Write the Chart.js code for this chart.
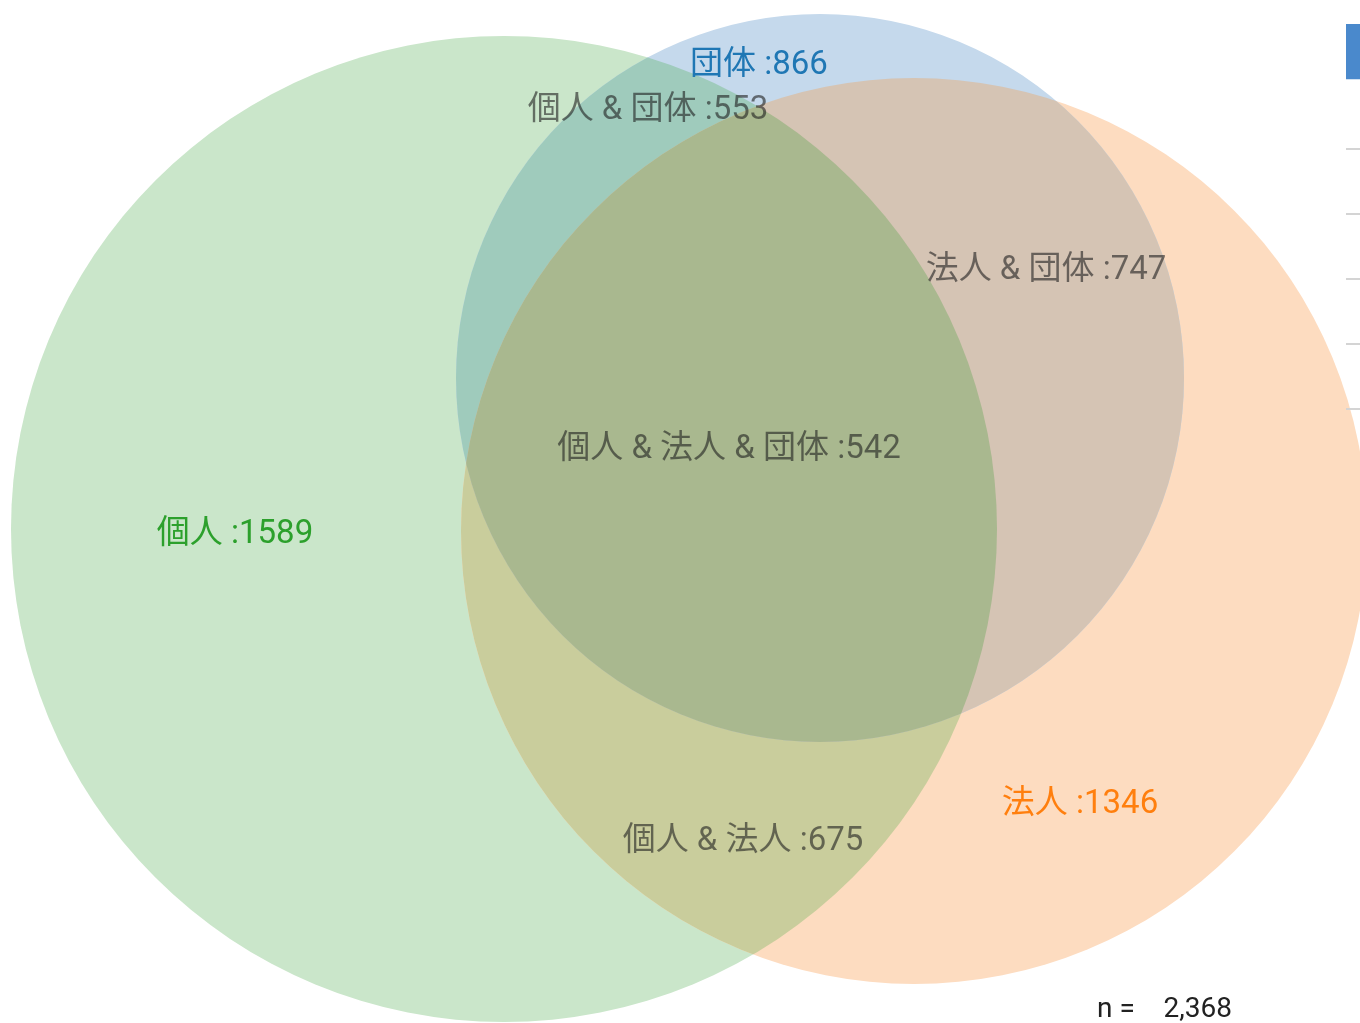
<!DOCTYPE html>
<html lang="ja">
<head>
<meta charset="utf-8">
<title>個人・法人・団体</title>
<script src="https://cdn.jsdelivr.net/npm/chart.js@4/dist/chart.umd.min.js"></script>
<style>
  html, body { margin: 0; padding: 0; background: #fff; overflow: hidden; }
  #wrap { position: relative; width: 1360px; height: 1023px; overflow: hidden; }
  #venn { position: absolute; left: 0; top: 0; }
  #side { position: absolute; left: 1346px; top: 0; }
</style>
</head>
<body>
<div id="wrap">
  <canvas id="venn" width="1360" height="1023"></canvas>
  <canvas id="side" width="200" height="440"></canvas>
</div>
<script>
// --- sets ---
const setNames = ['個人', '法人', '団体'];
const setCounts = [1589, 1346, 866];
const setColors = ['#cae6ca', '#fddcc0', '#c5d9ec'];
const setTextColors = ['#2ca02c', '#ff7f0e', '#1f77b4'];
// circle centres / radii in axis units
const circleX = [504, 914, 820];
const circleY = [529, 531, 378];
const circleR = [493, 453, 364];

// --- overlaps ---
const pairNames = ['個人 & 法人', '個人 & 団体', '法人 & 団体'];
const pairSets = [[0, 1], [0, 2], [1, 2]];
const pairCounts = [675, 553, 747];
const pairColors = ['#c9cd9c', '#9fcbbc', '#d5c4b4'];
const tripleName = '個人 & 法人 & 団体';
const tripleCount = 542;
const tripleColor = '#a9b88f';

// label anchors (axis units)
const setLabelX = [235, 1080, 759];
const setLabelY = [535, 805, 66];
const pairLabelX = [743, 648, 1046];
const pairLabelY = [842, 111, 271];
const tripleLabelX = 729;
const tripleLabelY = 450;

const totalN = 2368;

// partial side panel (cut off at the right edge)
const sideCategories = ['', '', '', '', '', ''];
const sideValues = [1, 0, 0, 0, 0, 0];

const labelFont = '33px Roboto, "Noto Sans CJK JP", sans-serif';
const overlapText = 'rgba(30, 30, 30, 0.6)';

// 円と重なり部分の塗り
const circlePlugin = {
    id: 'circles',
    beforeDatasetsDraw(chart) {
        const ctx = chart.ctx;
        const xs = chart.scales.x, ys = chart.scales.y;
        const geo = circleX.map((cx, i) => ({
            x: xs.getPixelForValue(cx),
            y: ys.getPixelForValue(circleY[i]),
            r: xs.getPixelForValue(cx + circleR[i]) - xs.getPixelForValue(cx)
        }));
        const circle = g => { ctx.beginPath(); ctx.arc(g.x, g.y, g.r, 0, Math.PI * 2); };

        ctx.save();
        geo.forEach((g, i) => { circle(g); ctx.fillStyle = setColors[i]; ctx.fill(); });
        pairSets.forEach(([a, b], k) => {
            ctx.save();
            circle(geo[a]); ctx.clip();
            circle(geo[b]); ctx.fillStyle = pairColors[k]; ctx.fill();
            ctx.restore();
        });
        ctx.save();
        circle(geo[0]); ctx.clip();
        circle(geo[1]); ctx.clip();
        circle(geo[2]); ctx.fillStyle = tripleColor; ctx.fill();
        ctx.restore();
        ctx.restore();
    },
    afterDatasetsDraw(chart) {
        const ctx = chart.ctx;
        const xs = chart.scales.x, ys = chart.scales.y;
        ctx.save();
        ctx.font = labelFont;
        ctx.textAlign = 'center';
        ctx.textBaseline = 'middle';
        setNames.forEach((name, i) => {
            ctx.fillStyle = setTextColors[i];
            ctx.fillText(name + ' :' + setCounts[i], xs.getPixelForValue(setLabelX[i]), ys.getPixelForValue(setLabelY[i]));
        });
        ctx.fillStyle = overlapText;
        pairNames.forEach((name, k) => {
            ctx.fillText(name + ' :' + pairCounts[k], xs.getPixelForValue(pairLabelX[k]), ys.getPixelForValue(pairLabelY[k]));
        });
        ctx.fillText(tripleName + ' :' + tripleCount, xs.getPixelForValue(tripleLabelX), ys.getPixelForValue(tripleLabelY));

        // n =
        ctx.font = '28px Roboto, "Noto Sans CJK JP", sans-serif';
        ctx.fillStyle = '#222';
        ctx.textAlign = 'left';
        ctx.fillText('n =', xs.getPixelForValue(1097), ys.getPixelForValue(1010));
        ctx.textAlign = 'right';
        ctx.fillText(totalN.toLocaleString('en-US'), xs.getPixelForValue(1232), ys.getPixelForValue(1010));
        ctx.restore();
    }
};

new Chart(document.getElementById('venn'), {
    type: 'scatter',
    data: {
        datasets: [{
            label: 'centres',
            data: circleX.map((x, i) => ({ x: x, y: circleY[i] })),
            pointRadius: 0
        }]
    },
    options: {
        responsive: false,
        animation: false,
        devicePixelRatio: 1,
        events: [],
        layout: { padding: 0 },
        plugins: { legend: { display: false }, tooltip: { enabled: false } },
        scales: {
            x: { type: 'linear', min: 0, max: 1360, display: false },
            y: { type: 'linear', min: 0, max: 1023, reverse: true, display: false }
        }
    },
    plugins: [circlePlugin]
});

new Chart(document.getElementById('side'), {
    type: 'bar',
    data: {
        labels: sideCategories,
        datasets: [{ data: sideValues, backgroundColor: '#4a89cc', barPercentage: 0.85, categoryPercentage: 1 }]
    },
    options: {
        indexAxis: 'y',
        responsive: false,
        animation: false,
        devicePixelRatio: 1,
        events: [],
        layout: { padding: { top: 19, bottom: 31, left: 0, right: 0 } },
        plugins: { legend: { display: false }, tooltip: { enabled: false } },
        scales: {
            x: { min: 0, max: 1, display: false },
            y: {
                ticks: { display: false },
                border: { display: false },
                grid: {
                    offset: true,
                    color: c => (c.index <= 1 ? 'rgba(0,0,0,0)' : '#d4d4d4'),
                    lineWidth: 2,
                    drawTicks: false
                }
            }
        }
    }
});
</script>
</body>
</html>
